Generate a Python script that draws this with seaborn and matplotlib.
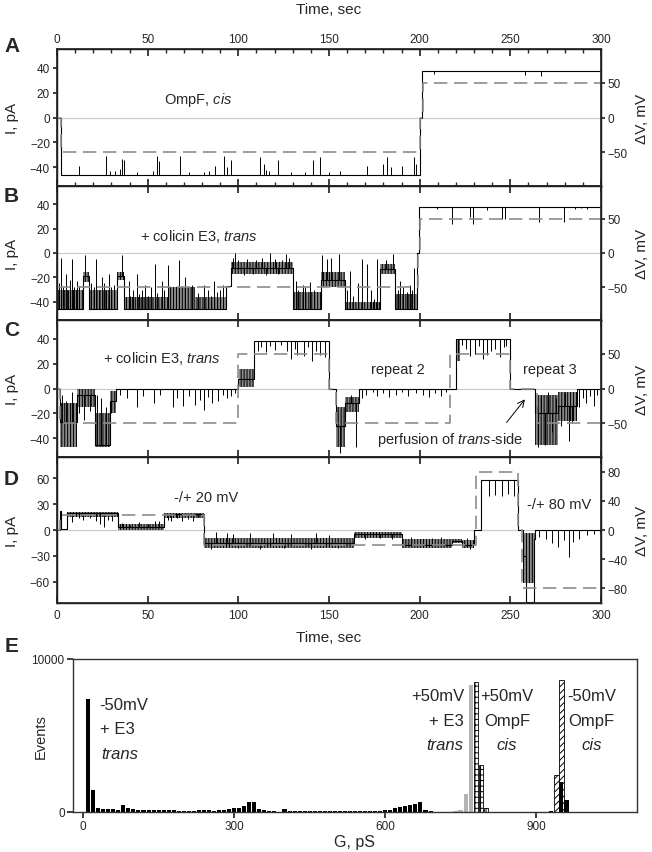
import numpy as np
import matplotlib
matplotlib.use("Agg")
import matplotlib.pyplot as plt
import seaborn as sns

sns.set_theme(style="ticks")
plt.rcParams["font.family"] = ["Liberation Sans", "DejaVu Sans"]
plt.rcParams["mathtext.fontset"] = "custom"
plt.rcParams["mathtext.rm"] = "Liberation Sans"
plt.rcParams["mathtext.it"] = "Liberation Sans:italic"
plt.rcParams["hatch.linewidth"] = 0.7

# ---------------- data ----------------
# traces: step levels (t, pA), brief excursions (t, pA), dense noisy stretches (t0, t1, lo, hi)
# voltage protocol: step levels (t, mV)

# panel A - OmpF, cis
a_step_t = [0, 2, 200, 201.5, 300]
a_step_i = [0, -46, 0, 37, 37]
a_spike_t = [12, 27, 29, 32, 35, 36, 37, 44, 53, 55, 56, 68, 73, 81, 84, 87, 92, 94, 96, 112,
             114, 115, 117, 122, 129, 137, 141, 145, 150, 156, 171, 180, 182, 184, 190, 197, 198, 208, 258, 267]
a_spike_i = [-39, -31, -43, -43, -41, -33, -34, -44, -43, -31, -35, -31, -44, -44, -43, -39, -31, -40, -34, -32,
             -37, -42, -43, -34, -44, -44, -34, -32, -44, -43, -39, -37, -32, -40, -39, -32, -37, 35, 34, 33]
a_bands = []
a_volt_t = [0, 2, 200, 202, 300]
a_volt_v = [0, -50, 0, 50, 50]

# panel B - + colicin E3, trans
b_step_t = [0, 14.3, 17.7, 33, 37.2, 93, 95.9, 130, 145.7, 158.6, 178.4, 186.2, 198.6, 199.5, 300]
b_step_i = [-46, -19, -46, -19, -46, -27, -12, -46, -22, -46, -13, -46, 0, 38, 38]
b_spike_t = [1, 2.3, 3.5, 5.1, 6, 7, 8.5, 9.5, 10.8, 12, 15.4, 19, 20.5, 21.6, 23, 24.6, 26, 27, 28.5, 30,
             31.5, 36.1, 39.5, 40, 42, 44.1, 45, 47, 48.7, 50, 52, 53.8, 55, 57.9, 59, 61.4, 67.1, 70.6, 74.5, 78,
             80.9, 83, 85, 86.7, 88, 90, 91.3, 97, 98.2, 100, 103, 105, 108, 110, 113, 115, 117.7, 120, 122, 124,
             126.4, 128, 132, 133, 135.6, 137, 139.5, 142, 146.4, 148.7, 151, 155.6, 160, 161.4, 163, 166, 168.3, 171, 173, 175,
             176.3, 181.6, 185.5, 188, 189, 191, 193, 194.7, 196, 197,
             209.7, 217.7, 228, 229.2, 237.2, 245.3, 246.9, 266, 279.8, 285.5, 289, 292.4]
b_spike_i = [-25, -4, -28, -17, -30, -22, -5, -28, -23, -27, -2, -25, -28, -5, -30, -20, -25, -30, -17, -28,
             -26, -2, -23, -35, -30, -17, -34, -30, -26, -35, -28, -9, -33, -23, -30, -10, -6, -20, -26, -33,
             -26, -30, -35, -23, -32, -30, -26, -4, 0, -6, -18, -5, -17, -6, -4, -18, 0, -5, -17, -6,
             -1, -4, -23, -30, -26, -28, -24, -30, -2, -5, -4, -1, -30, -15, -35, -25, -5, -9, -30, -38,
             -5, -6, -1, -30, -23, -28, -32, -26, -30, -12,
             36, 24, 29.5, 24, 35.6, 28, 28, 25.4, 25.4, 36, 37, 36]
b_bands = [(0, 14.3, -47, -30), (14.3, 17.7, -24, -16), (17.7, 33, -47, -30), (33, 37.2, -22, -16),
           (37.2, 61, -47, -36), (61, 76, -47, -28), (76, 93, -47, -36), (95.9, 130, -17, -7),
           (130, 145.7, -47, -32), (145.7, 158.6, -28, -16), (158.6, 178.4, -47, -40),
           (178.4, 186.2, -17, -9), (186.2, 198.6, -47, -34)]
b_volt_t = [0, 199, 200, 300]
b_volt_v = [-50, 0, 50, 50]

# panel C - + colicin E3, trans, repeats after perfusion
c_step_t = [0, 1.6, 10.8, 21, 29, 32.6, 99.8, 108.5, 149.9, 154, 159, 166.4, 220, 250, 263.7, 276.3, 286.7, 300]
c_step_i = [0, -27, -5, -45, -10, 0, 8, 38, 0, -30, -12, 0, 40, 0, -20, -14, 0, 0]
c_spike_t = [3, 5, 8, 12, 15, 18, 22, 24, 27, 30,
             34.9, 38.4, 44.1, 47.6, 53.3, 56.8, 63.7, 66, 69.4, 72.9, 76.3, 78.6, 80.9, 83.2, 85.5, 89, 91.3, 93.6, 95.9, 98.2,
             110.8, 112.6, 115.4, 117.7, 120, 123.4, 126.9, 129.2, 131, 132.6, 136, 138.4, 140.7, 143, 145.3, 147.6,
             156, 162, 165,
             168.3, 170.6, 174, 176.3, 179.8, 183.2, 186.7, 190.1, 193.6, 198.2, 201.6, 205, 208.5, 212, 214.3,
             221.1, 223.4, 225.7, 228, 230.3, 232.6, 234.9, 237.2, 239.5, 241.8, 244.1, 246.4, 247.6,
             265, 267, 269, 271, 273, 275, 278, 280, 282.5, 284, 288, 290, 292, 294, 296, 298]
c_spike_i = [-5, -10, -3, -20, -25, -18, -5, -8, -15, -20,
             -5, -8, -15, -6, -12, -5, -15, -8, -14, -6, -13, -9, -17, -7, -12, -10, -5, -8, -6, -4,
             30, 33, 29, 34, 31, 35, 30, 23.5, 32, 27, 26, 33, 22, 30, 27, 25,
             -52, -5, -47,
             -8, -5, -3, -6, -4, -7, -5, -3, -6, -4, -5, -7, -4, -6, -3,
             28, 35, 32, 26, 28, 34, 24, 27, 30, 32, 25, 33, 34,
             -47, -5, -45, -3, -35, -8, -30, -3, -42, -28, -15, -8, -12, -6, -14, -5]
c_bands = [(1.6, 10.8, -47, -12), (10.8, 21, -15, 0), (21, 29, -47, -20), (29, 32.6, -20, -2),
           (100.5, 108.5, 1, 16), (154, 159, -47, -15), (159, 166.4, -19, -7), (220, 222, 22, 40),
           (263.7, 276.3, -45, -5), (276.3, 286.7, -26, -3)]
c_volt_t = [0, 1.6, 99.8, 149.9, 154, 216.6, 250, 264.5, 300]
c_volt_v = [0, -50, 50, 0, -50, 50, 0, -50, -50]

# panel D - -/+ 20 mV and -/+ 80 mV
d_step_t = [0, 1.6, 2.3, 5.7, 33.8, 59, 81, 163.7, 190, 217.7, 223.4, 230, 233.8, 254.5, 256.8, 258.4, 262.8, 263.7, 300]
d_step_i = [0, 22, 1.5, 20, 3, 19, -15, -5, -17, -13, -17, 0, 58, 0, -30, -84, -10, 0, 0]
d_spike_t = [8.5, 12, 14.3, 18, 21.3, 23.7, 26, 28.3, 30.6,
             36, 40, 45, 50, 54, 56.5,
             61, 63, 66, 69, 72, 75, 78,
             85, 87.8, 93.6, 97, 100, 106.2, 112, 118.9, 125, 129.2, 140, 143, 149.9, 155,
             170, 178, 185, 195, 200, 207, 212, 226, 228,
             238.4, 241.8, 245.3, 248.7, 252.2,
             266, 269.4, 272.9, 276.3, 279.8, 282.1, 284.4, 287.8, 292.4, 295.9, 299.3]
d_spike_i = [9, 14, 11.7, 14, 10, 7, 3, 12, 10,
             8, 6, 9, 7, 10, 10,
             12, 10, 14, 11, 13, 10, 15,
             -22, -2, -3, -5, -21, -4, -22, -3, -21, -5, -22, -4, -6, -21,
             -10, -9, -11, -8, -10, -9, -8, -9, -22,
             40, 41, 40, 42, 40,
             -8, -10, -15, -20, -12, -32, -14, -10, -6, -5, -4]
d_bands = [(5.7, 33.8, 15, 21), (33.8, 59, 0, 7), (59, 81, 14, 20), (81, 163.7, -21, -9),
           (163.7, 190, -9, -2), (190, 217.7, -21, -11), (217.7, 223.4, -15, -11), (223.4, 230, -21, -12),
           (256.8, 263.7, -62, -3)]
d_volt_t = [0, 1.6, 81, 231, 254.5, 256.5, 300]
d_volt_v = [0, 20, -20, 80, 0, -80, -80]

# panel E - conductance histograms (bin centre pS, events)
e_black_g = [10, 20, 30, 40, 50, 60, 70, 80, 90, 100, 110, 120, 130, 140, 150, 160, 170, 180, 190, 200,
             210, 220, 230, 240, 250, 260, 270, 280, 290, 300, 310, 320, 330, 340, 350, 360, 370, 380, 390, 400,
             410, 420, 430, 440, 450, 460, 470, 480, 490, 500, 510, 520, 530, 540, 550, 560, 570, 580, 590, 600,
             610, 620, 630, 640, 650, 660, 670, 680, 690, 930, 950, 960]
e_black_n = [7400, 1450, 250, 220, 180, 170, 160, 470, 250, 180, 150, 140, 130, 120, 120, 110, 100, 100, 90, 90,
             90, 90, 100, 110, 100, 90, 110, 130, 200, 230, 250, 400, 680, 650, 190, 140, 60, 40, 30, 170,
             60, 50, 40, 40, 40, 40, 40, 40, 40, 50, 50, 60, 60, 50, 50, 60, 60, 70, 80, 100,
             150, 230, 300, 380, 460, 520, 680, 100, 40, 60, 1950, 780]
e_grey_g = [740, 750, 760, 770, 780]
e_grey_n = [40, 150, 1200, 8300, 1000]
e_check_g = [780, 790, 800]
e_check_n = [8500, 3100, 250]
e_hatch_g = [940, 950]
e_hatch_n = [2450, 8600]

time_ticks = [0, 50, 100, 150, 200, 250, 300]

# ---------------- figure ----------------
fig = plt.figure(figsize=(6.52, 8.53), dpi=100)
W, H = 652.0, 853.0


def px_axes(l, t, r, b):
    return fig.add_axes([l / W, 1 - b / H, (r - l) / W, (b - t) / H])


def draw_trace(ax, st, si, kt, ki, bands):
    # dense flicker drawn as a field of thin vertical strokes
    for t0, t1, lo, hi in bands:
        ax.fill_between([t0, t1], [lo, lo], [hi, hi], facecolor="none", edgecolor="black",
                        hatch="|" * 11, lw=0)
    ax.step(st, si, where="post", color="black", lw=0.8)
    idx = np.searchsorted(st, kt, side="right") - 1
    base = np.asarray(si)[idx]
    ax.vlines(kt, base, ki, color="black", lw=0.7)


panels = [
    ("A", 50, 187, a_step_t, a_step_i, a_spike_t, a_spike_i, a_bands, a_volt_t, a_volt_v, 55, 98, [-40, -20, 0, 20, 40], [-50, 0, 50]),
    ("B", 187, 321, b_step_t, b_step_i, b_spike_t, b_spike_i, b_bands, b_volt_t, b_volt_v, 55, 98, [-40, -20, 0, 20, 40], [-50, 0, 50]),
    ("C", 321, 458, c_step_t, c_step_i, c_spike_t, c_spike_i, c_bands, c_volt_t, c_volt_v, 55, 98, [-40, -20, 0, 20, 40], [-50, 0, 50]),
    ("D", 458, 604, d_step_t, d_step_i, d_spike_t, d_spike_i, d_bands, d_volt_t, d_volt_v, 85, 100, [-60, -30, 0, 30, 60], [-80, -40, 0, 40, 80]),
]
letter_y = {"A": 46, "B": 196, "C": 331, "D": 480}

axes = {}
for name, top, bot, st, si, kt, ki, bands, vt, vv, ilim, vlim, iticks, vticks in panels:
    ax = px_axes(57, top, 601, bot)
    ax.axhline(0, color="#c8c8c8", lw=0.8, zorder=0)
    draw_trace(ax, st, si, kt, ki, bands)
    ax.set_xlim(0, 300)
    ax.set_ylim(-ilim, ilim)
    ax.set_yticks(iticks)
    ax.set_xticks(time_ticks)
    ax.tick_params(axis="y", labelsize=8.5, length=3, direction="out", pad=2)
    ax.tick_params(axis="x", labelsize=8.5, length=5, direction="in", top=True, bottom=True,
                   labelbottom=False, labeltop=False)
    ax.set_ylabel("I, pA", fontsize=11)
    ax.yaxis.set_label_coords(-0.07, 0.5)
    for sp in ax.spines.values():
        sp.set_visible(True)
        sp.set_color("black")
        sp.set_linewidth(1.0)

    ax2 = ax.twinx()
    ax2.step(vt, vv, where="post", color="#8c8c8c", lw=1.2, ls=(0, (8, 4)))
    ax2.set_ylim(-vlim, vlim)
    ax2.set_yticks(vticks)
    ax2.tick_params(axis="y", labelsize=8.5, length=3, direction="out", pad=2)
    ax2.set_ylabel("ΔV, mV", fontsize=11, rotation=90)
    ax2.yaxis.set_label_coords(1.063, 0.5)
    fig.text(4 / W, 1 - letter_y[name] / H, name, fontsize=15, fontweight="bold", va="center", ha="left")
    axes[name] = ax

# shared time axes
ax_a = axes["A"]
ax_a.xaxis.set_minor_locator(matplotlib.ticker.MultipleLocator(10))
ax_a.tick_params(axis="x", which="minor", length=3, direction="in", top=True, bottom=True)
ax_a.tick_params(axis="x", labeltop=True, pad=3)
ax_a.xaxis.set_label_position("top")
ax_a.set_xlabel("Time, sec", fontsize=11, labelpad=14)

ax_d = axes["D"]
ax_d.tick_params(axis="x", labelbottom=True, pad=4)
ax_d.set_xlabel("Time, sec", fontsize=11, labelpad=7)

# annotations
txt = dict(fontsize=10.5, ha="center", va="center")
axes["A"].text(78, 15, r"OmpF, $\it{cis}$", **txt)
axes["B"].text(78, 14, r"+ colicin E3, $\it{trans}$", **txt)
axes["C"].text(58, 25, r"+ colicin E3, $\it{trans}$", **txt)
axes["C"].text(188, 15.5, "repeat 2", **txt)
axes["C"].text(272, 15.5, "repeat 3", **txt)
axes["C"].text(217, -40.5, r"perfusion of $\it{trans}$-side", **txt)
axes["C"].annotate("", xy=(259, -7), xytext=(247, -29),
                   arrowprops=dict(arrowstyle="->", color="black", lw=0.7))
axes["D"].text(82, 38, "-/+ 20 mV", **txt)
axes["D"].text(277, 30, "-/+ 80 mV", **txt)

# ---------------- panel E ----------------
ax_e = px_axes(73, 660, 637, 813)
bar_kw = dict(native_scale=True, errorbar=None, saturation=1, ax=ax_e)
sns.barplot(x=e_hatch_g, y=e_hatch_n, color="white", edgecolor="black", linewidth=0.6,
            hatch="/////", width=0.9, **bar_kw)
sns.barplot(x=e_grey_g, y=e_grey_n, color="#b4b4b4", linewidth=0, width=0.9, **bar_kw)
sns.barplot(x=e_check_g, y=e_check_n, color="white", edgecolor="black", linewidth=0.6,
            hatch="+++", width=0.9, **bar_kw)
sns.barplot(x=e_black_g, y=e_black_n, color="black", linewidth=0, width=0.8, **bar_kw)
ax_e.set_xlim(-20, 1100)
ax_e.set_ylim(0, 10000)
ax_e.set_xticks([0, 300, 600, 900])
ax_e.set_xticklabels(["0", "300", "600", "900"])
ax_e.set_yticks([0, 10000])
ax_e.set_yticklabels(["0", "10000"])
ax_e.tick_params(labelsize=8.5, length=4, direction="out", pad=2)
ax_e.set_xlabel("G, pS", fontsize=11.5, labelpad=1)
ax_e.set_ylabel("Events", fontsize=10.5)
ax_e.yaxis.set_label_coords(-0.045, 0.5)
for sp in ax_e.spines.values():
    sp.set_visible(True)
    sp.set_color("#333333")
    sp.set_linewidth(1.0)
fig.text(5 / W, 1 - 647 / H, "E", fontsize=15, fontweight="bold", va="center", ha="left")

etxt = dict(fontsize=12, va="center")
ax_e.text(80, 7000, "-50mV", ha="center", **etxt)
ax_e.text(68, 5450, "+ E3", ha="center", **etxt)
ax_e.text(72, 3850, "trans", ha="center", style="italic", **etxt)
ax_e.text(757, 7600, "+50mV", ha="right", **etxt)
ax_e.text(755, 5970, "+ E3", ha="right", **etxt)
ax_e.text(755, 4380, "trans", ha="right", style="italic", **etxt)
ax_e.text(842, 7600, "+50mV", ha="center", **etxt)
ax_e.text(842, 5970, "OmpF", ha="center", **etxt)
ax_e.text(842, 4380, "cis", ha="center", style="italic", **etxt)
ax_e.text(1010, 7600, "-50mV", ha="center", **etxt)
ax_e.text(1010, 5970, "OmpF", ha="center", **etxt)
ax_e.text(1010, 4380, "cis", ha="center", style="italic", **etxt)

fig.savefig("out.png", dpi=100)
